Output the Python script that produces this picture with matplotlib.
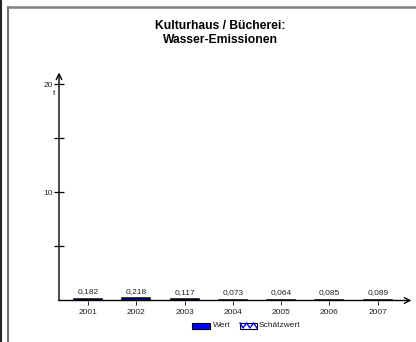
import matplotlib
matplotlib.use("Agg")
import matplotlib.pyplot as plt
from matplotlib.patches import Rectangle
from matplotlib.lines import Line2D

plt.rcParams['font.family'] = ['Liberation Sans', 'DejaVu Sans']

years = ["2001", "2002", "2003", "2004", "2005", "2006", "2007"]
values = [0.182, 0.218, 0.117, 0.073, 0.064, 0.085, 0.089]
value_labels = ["0,182", "0,218", "0,117", "0,073", "0,064", "0,085", "0,089"]
legend_labels = ["Wert", "Schätzwert"]
title = "Kulturhaus / Bücherei:\nWasser-Emissionen"
unit = "t"

W, H = 416, 342
fig = plt.figure(figsize=(W / 100, H / 100), dpi=100)

# frame lines
fig.add_artist(Line2D([1 / W, 1 / W], [0, 1], color="#222222", lw=1.5))
fig.add_artist(Line2D([8 / W, 8 / W], [0, 1 - 7 / H], color="#707070", lw=1.5))
fig.add_artist(Line2D([8 / W, 1], [1 - 7 / H, 1 - 7 / H], color="#808080", lw=1.8))

left, right = 59 / W, 411.5 / W
bottom, top = (H - 300.5) / H, (H - 72.5) / H
ax = fig.add_axes([left, bottom, right - left, top - bottom])
for s in ax.spines.values():
    s.set_visible(False)
ax.patch.set_alpha(0)

ymax = 21.1
ax.set_ylim(0, ymax)
ax.set_xlim(-0.6, 6.7)

x = list(range(len(years)))
ax.bar(x, values, width=0.58, color="#0000CC", edgecolor="black", linewidth=1.1, zorder=3)
for xi, v, lab in zip(x, values, value_labels):
    ax.annotate(lab, (xi, v), xytext=(0, 2.5), textcoords="offset points",
                ha="center", va="bottom", fontsize=6, color="#222222")

# axes arrows
ax.annotate("", xy=(0, 1), xycoords="axes fraction", xytext=(0, 0),
            arrowprops=dict(arrowstyle="->", color="black", lw=1, shrinkA=0, shrinkB=0,
                            mutation_scale=10))
ax.annotate("", xy=(1, 0), xycoords="axes fraction", xytext=(0, 0),
            arrowprops=dict(arrowstyle="->", color="black", lw=1, shrinkA=0, shrinkB=0,
                            mutation_scale=10))

ax.set_yticks([10, 20])
ax.set_yticklabels(["10", "20"], fontsize=6, color="#222222")
ax.set_yticks([5, 15], minor=True)
ax.tick_params(axis="y", which="both", direction="inout", length=7, width=0.9, pad=1)
ax.set_xticks(x)
ax.set_xticklabels(years, fontsize=6, color="#222222")
ax.tick_params(axis="x", direction="out", length=3, width=0.6, pad=3)
ax.text(-0.012, 20 - 0.85, unit, transform=ax.get_yaxis_transform(), ha="right", va="center",
        fontsize=6, color="#222222")

fig.text(220 / W, 1 - 33 / H, title, ha="center", va="center", fontsize=8.7,
         fontweight="bold", linespacing=1.25)

# legend drawn manually in figure pixel coordinates
def px(xp, yp):
    return xp / W, 1 - yp / H

fig.add_artist(Rectangle(px(192, 328.5), 18 / W, 6 / H, facecolor="#0000FF",
                         edgecolor="black", linewidth=0.8, transform=fig.transFigure))
fig.text(*px(213, 325.5), legend_labels[0], ha="left", va="center", fontsize=6, color="#222222")
fig.add_artist(Rectangle(px(240, 328.5), 17 / W, 6 / H, facecolor="white",
                         edgecolor="black", linewidth=0.8, transform=fig.transFigure))
zx = [240, 243, 246.5, 250, 253.5, 257]
zy = [323, 328, 323, 328, 323, 328]
fig.add_artist(Line2D([a / W for a in zx], [1 - b / H for b in zy], color="#0000FF", lw=1.0))
fig.text(*px(258.5, 325.5), legend_labels[1], ha="left", va="center", fontsize=6, color="#222222")

fig.savefig("out.png", dpi=100)
